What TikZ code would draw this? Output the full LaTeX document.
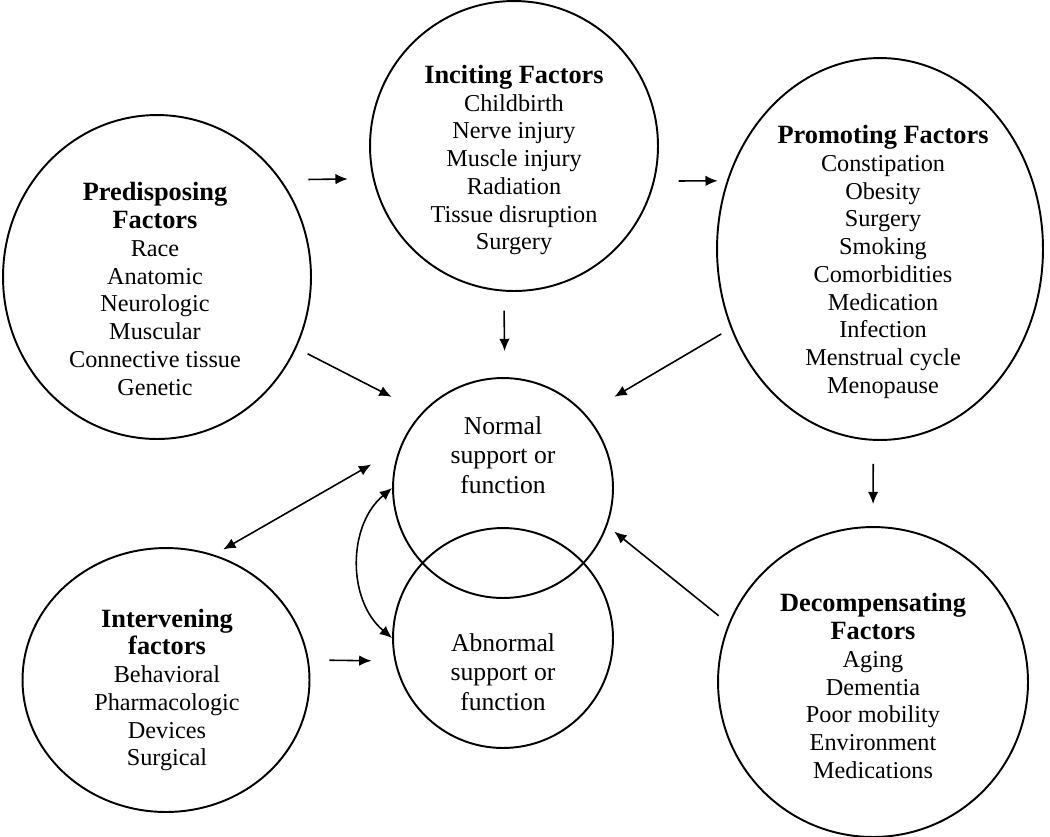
\documentclass[tikz,border=0pt]{standalone}
\usepackage{fontspec}
\setmainfont{Liberation Serif}
\usetikzlibrary{shapes.geometric,arrows.meta}
\newcommand{\fhead}[1]{{\fontsize{15}{15.8}\selectfont\bfseries #1}}
\begin{document}
\begin{tikzpicture}[
                    x=0.02cm, y=-0.02cm,
                    >={Latex[length=7pt,width=6pt]},
                    factor/.style={ellipse, draw, line width=1.1pt, inner sep=0pt},
                    core/.style={circle, draw, line width=1.1pt, inner sep=0pt, minimum size=4.4cm},
                    txt/.style={align=center, font=\fontsize{13.8}{15.8}\selectfont},
                    big/.style={align=center, font=\fontsize{14.6}{16.8}\selectfont},
                    link/.style={->, line width=0.9pt}
                ]
                \useasboundingbox (0,0) rectangle (1050,836);
                % Circles
                \node [factor, minimum width=6.16cm, minimum height=6.48cm] (pre) at (157,277) {};
                \node [factor, minimum width=5.76cm, minimum height=5.8cm] (inc) at (514,146) {};
                \node [factor, minimum width=6.52cm, minimum height=7.64cm] (pro) at (880,249) {};
                \node [factor, minimum width=5.74cm, minimum height=5.28cm] (int) at (166,680) {};
                \node [factor, minimum width=6.2cm, minimum height=6.2cm] (dec) at (873,682) {};
                \node [core] (nor) at (503,488) {};
                \node [core] (abn) at (503,638) {};

                % Texts
                \node [txt] (pre-t) at (155,289) {\fhead{Predisposing}\\\fhead{Factors}\\Race\\Anatomic\\Neurologic\\Muscular\\Connective tissue\\Genetic};
                \node [txt] (inc-t) at (514,160) {\fhead{Inciting Factors}\\Childbirth\\Nerve injury\\Muscle injury\\Radiation\\Tissue disruption\\Surgery};
                \node [txt] (pro-t) at (883,262) {\fhead{Promoting Factors}\\Constipation\\Obesity\\Surgery\\Smoking\\Comorbidities\\Medication\\Infection\\Menstrual cycle\\Menopause};
                \node [txt] (int-t) at (167,690) {\fhead{Intervening}\\\fhead{factors}\\Behavioral\\Pharmacologic\\Devices\\Surgical};
                \node [txt] (dec-t) at (873,686) {\fhead{Decompensating}\\\fhead{Factors}\\Aging\\Dementia\\Poor mobility\\Environment\\Medications};
                \node [big] (nor-t) at (503,455) {Normal\\support or\\function};
                \node [big] (abn-t) at (503,672) {Abnormal\\support or\\function};

                % Connections
                \draw [link, shorten <=0.54cm, shorten >=0.5cm] (pre.38) -- (inc.193);
                \draw [link, shorten <=0.48cm, shorten >=0.18cm] (inc.346) -- (pro.156);
                \draw [link, shorten <=0.38cm, shorten >=0.52cm] (inc.266) -- (nor.89);
                \draw [link, shorten <=0.25cm, shorten >=0.68cm] (pre.333) -- (nor.137);
                \draw [link, shorten <=0.22cm, shorten >=0.67cm] (pro.208) -- (nor.42);
                \draw [link, shorten <=0.46cm, shorten >=0.44cm] (pro.268) -- (dec.90);
                \draw [link, shorten <=0.25cm, shorten >=0.18cm] (dec.158) -- (nor.340);
                \draw [link, <->, shorten <=0.21cm, shorten >=0.65cm] (int.69) -- (nor.159);
                \draw [link, <->] (nor.west) to[bend right=50] (abn.west);
                \draw [link, shorten <=0.41cm, shorten >=0.46cm] (int.8) -- (abn.192);
            \end{tikzpicture}
\end{document}
